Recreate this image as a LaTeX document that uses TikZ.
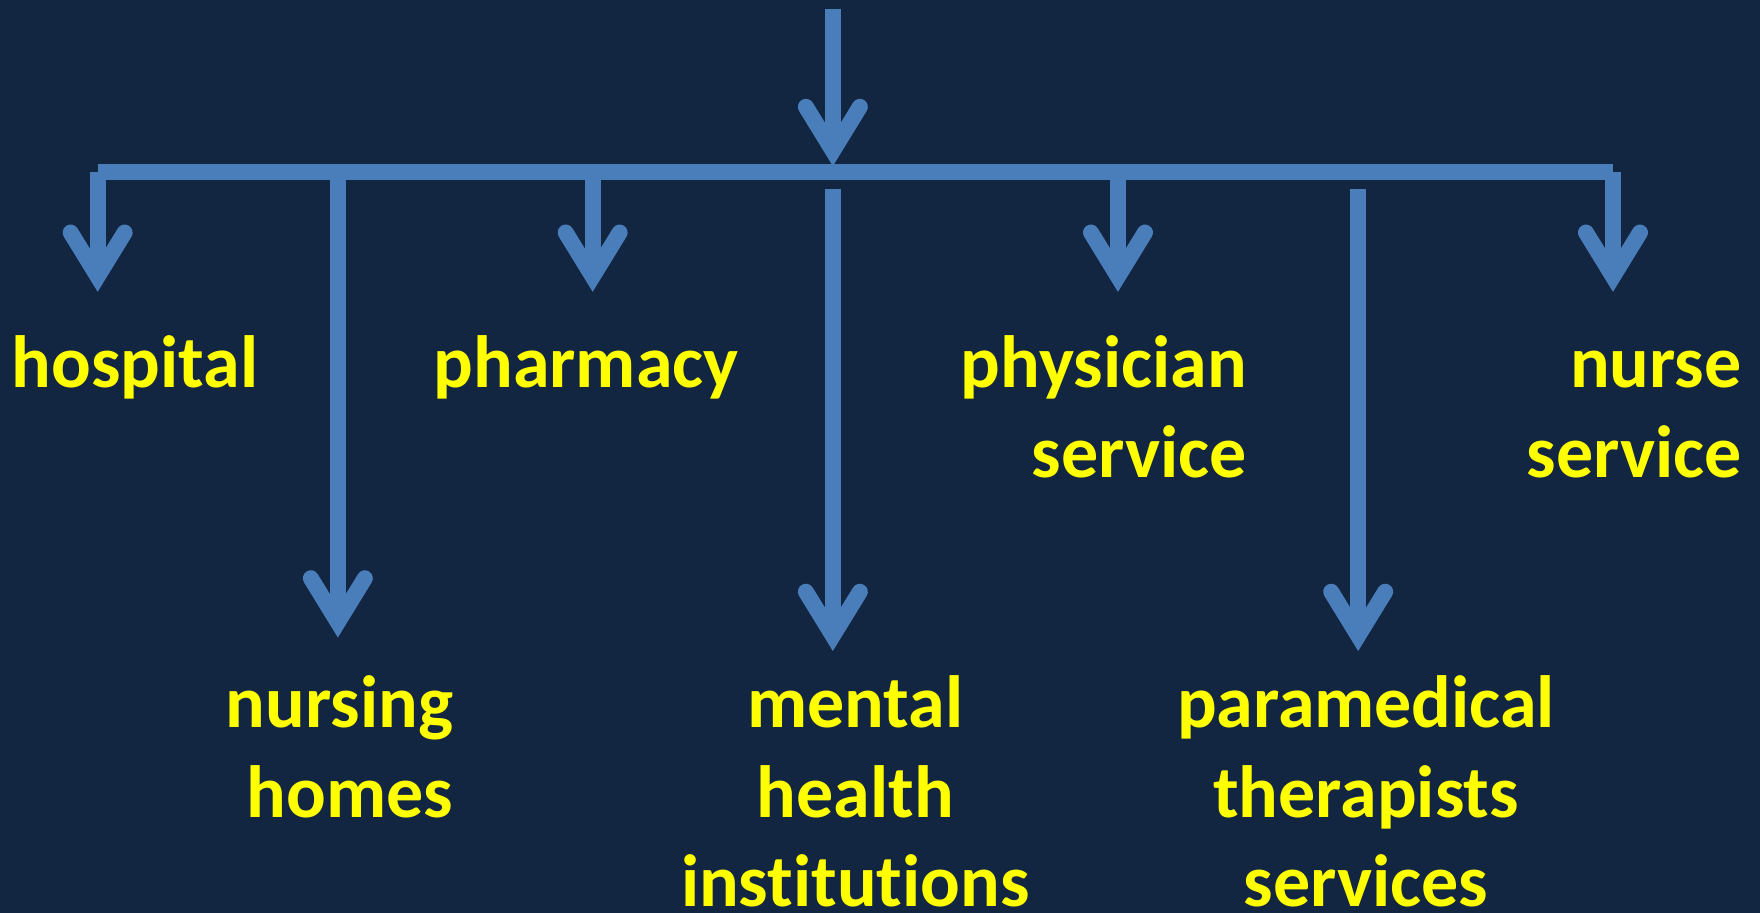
\documentclass[tikz,border=0pt]{standalone}
\usepackage{fontspec}
\setmainfont{Carlito}[Ligatures=NoCommon]
\usetikzlibrary{arrows.meta}
\definecolor{bgnavy}{HTML}{122541}
\definecolor{linkblue}{HTML}{4A7EBB}
\definecolor{labelyellow}{HTML}{FFFF00}
\begin{document}
\begin{tikzpicture}[x=0.5612pt,y=-0.5612pt,
  link/.style={draw=linkblue, line width=8pt, line cap=butt},
  headed/.style={link, -{Straight Barb[length=22pt,width=27pt,line cap=round,line join=miter]}},
  label/.style={text=labelyellow, font=\bfseries\fontsize{37}{44.9}\selectfont, inner sep=0pt},
]
% background
\fill[bgnavy] (0,0) rectangle (1568,813);
\useasboundingbox (0,0) rectangle (1568,813);

% branching points on the bar
\coordinate (src)   at (742,8);
\coordinate (hub)   at (742,148);
\coordinate (barL)  at (87,153);
\coordinate (barR)  at (1437,153);
\coordinate (tapNH) at (301,153);
\coordinate (tapPh) at (528,153);
\coordinate (tapMH) at (742,168);
\coordinate (tapPS) at (996,153);
\coordinate (tapPM) at (1210,168);

% arrow tips
\coordinate (tipHo) at (87,260);
\coordinate (tipNH) at (301,568);
\coordinate (tipPh) at (528,260);
\coordinate (tipMH) at (742,580);
\coordinate (tipPS) at (996,260);
\coordinate (tipPM) at (1210,580);
\coordinate (tipNS) at (1437,260);

% labels (base anchor = baseline of the last line)
\node[label, anchor=base west] (hospital) at (10,345) {hospital};
\node[label, anchor=base west] (pharmacy) at (386,345) {pharmacy};
\node[label, anchor=base east, align=right] (physician) at (1111,425) {physician\\service};
\node[label, anchor=base east, align=right] (nurse) at (1552,425) {nurse\\service};
\node[label, anchor=base east, align=right] (nursing) at (404,728) {nursing\\homes};
\node[label, anchor=base, align=center] (mental) at (762,808) {mental\\health\\institutions};
\node[label, anchor=base, align=center] (paramedical) at (1217,808) {paramedical\\therapists\\services};

% connectors
\draw[headed] (src) -- (hub);
\draw[link] (barL) -- (barR);
\draw[headed] (barL) -- (tipHo);
\draw[headed] (tapNH) -- (tipNH);
\draw[headed] (tapPh) -- (tipPh);
\draw[headed] (tapMH) -- (tipMH);
\draw[headed] (tapPS) -- (tipPS);
\draw[headed] (tapPM) -- (tipPM);
\draw[headed] (barR) -- (tipNS);
\end{tikzpicture}
\end{document}
